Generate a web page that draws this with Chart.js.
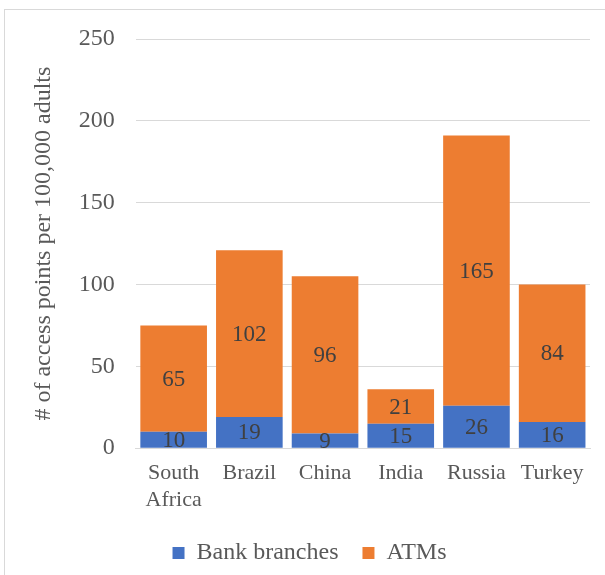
<!DOCTYPE html>
<html>
<head>
<meta charset="utf-8">
<script src="https://cdn.jsdelivr.net/npm/chart.js@4/dist/chart.umd.min.js"></script>
<style>
  html, body { margin: 0; padding: 0; background: #fff; }
  #wrap { position: relative; width: 605px; height: 575px; overflow: hidden; }
  #frame { position: absolute; left: 4px; top: 9px; width: 620px; height: 600px; border: 1px solid #d9d9d9; box-sizing: border-box; }
  canvas { position: absolute; left: 0; top: 0; }
</style>
</head>
<body>
<div id="wrap">
  <div id="frame"></div>
  <canvas id="accessChart" width="605" height="575"></canvas>
</div>
<script>
var countries = [['South', 'Africa'], 'Brazil', 'China', 'India', 'Russia', 'Turkey'];
var bankBranches = [10, 19, 9, 15, 26, 16];
var atms = [65, 102, 96, 21, 165, 84];

var serif = "'Liberation Serif', 'Times New Roman', serif";

// writes each segment's value in the middle of its bar
var segmentLabels = {
  id: 'segmentLabels',
  afterDatasetsDraw: function(chart) {
    var ctx = chart.ctx;
    ctx.save();
    ctx.font = '23px ' + serif;
    ctx.fillStyle = '#404040';
    ctx.textAlign = 'center';
    ctx.textBaseline = 'middle';
    chart.data.datasets.forEach(function(ds, i) {
      chart.getDatasetMeta(i).data.forEach(function(bar, j) {
        var mid = (bar.y + bar.base) / 2;
        ctx.fillText(String(ds.data[j]), bar.x, mid + 1);
      });
    });
    ctx.restore();
  }
};

var ctx = document.getElementById('accessChart').getContext('2d');
var chart = new Chart(ctx, {
  type: 'bar',
  data: {
    labels: countries,
    datasets: [
      { label: 'Bank branches', data: bankBranches, backgroundColor: '#4472C4', borderWidth: 0 },
      { label: 'ATMs', data: atms, backgroundColor: '#ED7D31', borderWidth: 0 }
    ]
  },
  options: {
    responsive: false,
    animation: false,
    layout: { padding: { left: 29, right: 15, top: 39, bottom: 0 } },
    datasets: { bar: { categoryPercentage: 1.0, barPercentage: 0.88 } },
    plugins: {
      legend: {
        position: 'bottom',
        labels: { font: { family: serif, size: 24 }, color: '#595959', boxWidth: 12, boxHeight: 12, padding: 24 }
      },
      tooltip: { enabled: false }
    },
    scales: {
      x: {
        stacked: true,
        grid: { display: false },
        border: { display: true, color: '#d9d9d9', width: 1 },
        ticks: { font: { family: serif, size: 22 }, color: '#595959', maxRotation: 0, padding: 4 }
      },
      y: {
        stacked: true,
        min: 0,
        max: 250,
        ticks: { stepSize: 50, font: { family: serif, size: 24 }, color: '#595959', padding: 21 },
        grid: { color: '#d9d9d9', drawTicks: false },
        border: { display: false },
        title: { display: true, text: '# of access points per 100,000 adults', font: { family: serif, size: 24 }, color: '#595959', padding: 0 }
      }
    }
  },
  plugins: [segmentLabels]
});
</script>
</body>
</html>
